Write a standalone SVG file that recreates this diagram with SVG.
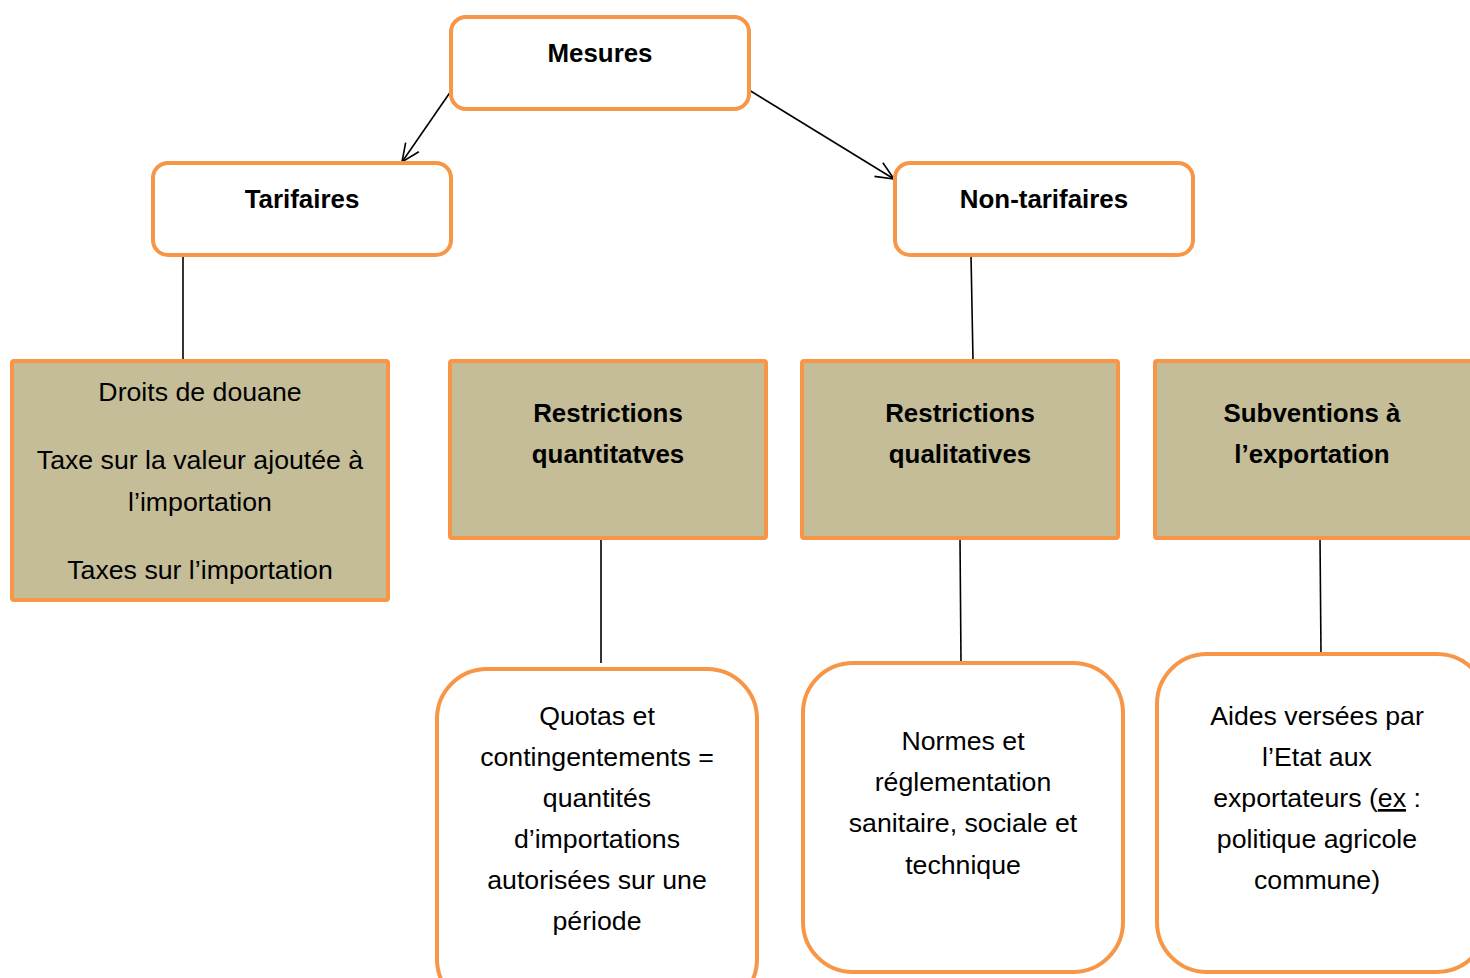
<svg xmlns="http://www.w3.org/2000/svg" width="1470" height="978" viewBox="0 0 1470 978">
<defs>
<style>
.top{fill:#fff;stroke:#F79646;stroke-width:4}
.mid{fill:#C4BD97;stroke:#F79646;stroke-width:4}
.bot{fill:#fff;stroke:#F79646;stroke-width:4}
.b{font-family:"Liberation Sans",Arial,sans-serif;font-weight:bold;font-size:25.9px;fill:#000;text-anchor:middle}
.r{font-family:"Liberation Sans",Arial,sans-serif;font-size:26.7px;fill:#000;text-anchor:middle}
.ln{stroke:#000;stroke-width:1.6;fill:none}
</style>
<marker id="arr" viewBox="0 0 20 20" refX="19" refY="10" markerWidth="20" markerHeight="20" markerUnits="userSpaceOnUse" orient="auto">
<path d="M1,2 L19,10 L1,18" fill="none" stroke="#000" stroke-width="1.6"/>
</marker>
</defs>
<rect width="1470" height="978" fill="#fff"/>
<g id="connectors">
<line class="ln" x1="451" y1="91" x2="402" y2="162" marker-end="url(#arr)"/>
<line class="ln" x1="749" y1="90" x2="894" y2="179" marker-end="url(#arr)"/>
<line class="ln" x1="183" y1="255" x2="183" y2="360"/>
<line class="ln" x1="971" y1="255" x2="973" y2="360"/>
<line class="ln" x1="601" y1="538" x2="601" y2="663"/>
<line class="ln" x1="960" y1="538" x2="961" y2="663"/>
<line class="ln" x1="1320" y1="538" x2="1321" y2="654"/>
</g>
<g id="mesures">
<rect class="top" x="451" y="17" width="298" height="92" rx="15"/>
<text class="b" x="600" y="62">Mesures</text>
</g>
<g id="tarifaires">
<rect class="top" x="153" y="163" width="298" height="92" rx="15"/>
<text class="b" x="302" y="208">Tarifaires</text>
</g>
<g id="non-tarifaires">
<rect class="top" x="895" y="163" width="298" height="92" rx="15"/>
<text class="b" x="1044" y="208">Non-tarifaires</text>
</g>
<g id="droits">
<rect class="mid" x="12" y="361" width="376" height="239" rx="2"/>
<text class="r" x="200" y="401">Droits de douane</text>
<text class="r" x="200" y="469">Taxe sur la valeur ajoutée à</text>
<text class="r" x="200" y="511">l’importation</text>
<text class="r" x="200" y="579">Taxes sur l’importation</text>
</g>
<g id="restrictions-quantitatives">
<rect class="mid" x="450" y="361" width="316" height="177" rx="2"/>
<text class="b" x="608" y="422">Restrictions</text>
<text class="b" x="608" y="463">quantitatves</text>
</g>
<g id="restrictions-qualitatives">
<rect class="mid" x="802" y="361" width="316" height="177" rx="2"/>
<text class="b" x="960" y="422">Restrictions</text>
<text class="b" x="960" y="463">qualitatives</text>
</g>
<g id="subventions">
<rect class="mid" x="1155" y="361" width="330" height="177" rx="2"/>
<text class="b" x="1312" y="422">Subventions à</text>
<text class="b" x="1312" y="463">l’exportation</text>
</g>
<g id="quotas">
<rect class="bot" x="437" y="669" width="320" height="340" rx="50"/>
<text class="r" x="597" y="725">Quotas et</text>
<text class="r" x="597" y="766">contingentements =</text>
<text class="r" x="597" y="807">quantités</text>
<text class="r" x="597" y="848">d’importations</text>
<text class="r" x="597" y="889">autorisées sur une</text>
<text class="r" x="597" y="930">période</text>
</g>
<g id="normes">
<rect class="bot" x="803" y="663" width="320" height="309" rx="50"/>
<text class="r" x="963" y="750">Normes et</text>
<text class="r" x="963" y="791">réglementation</text>
<text class="r" x="963" y="832">sanitaire, sociale et</text>
<text class="r" x="963" y="874">technique</text>
</g>
<g id="aides">
<rect class="bot" x="1157" y="654" width="330" height="318" rx="50"/>
<text class="r" x="1317" y="725">Aides versées par</text>
<text class="r" x="1317" y="766">l’Etat aux</text>
<text class="r" x="1317" y="807">exportateurs (<tspan text-decoration="underline">ex</tspan> :</text>
<text class="r" x="1317" y="848">politique agricole</text>
<text class="r" x="1317" y="889">commune)</text>
</g>
</svg>
